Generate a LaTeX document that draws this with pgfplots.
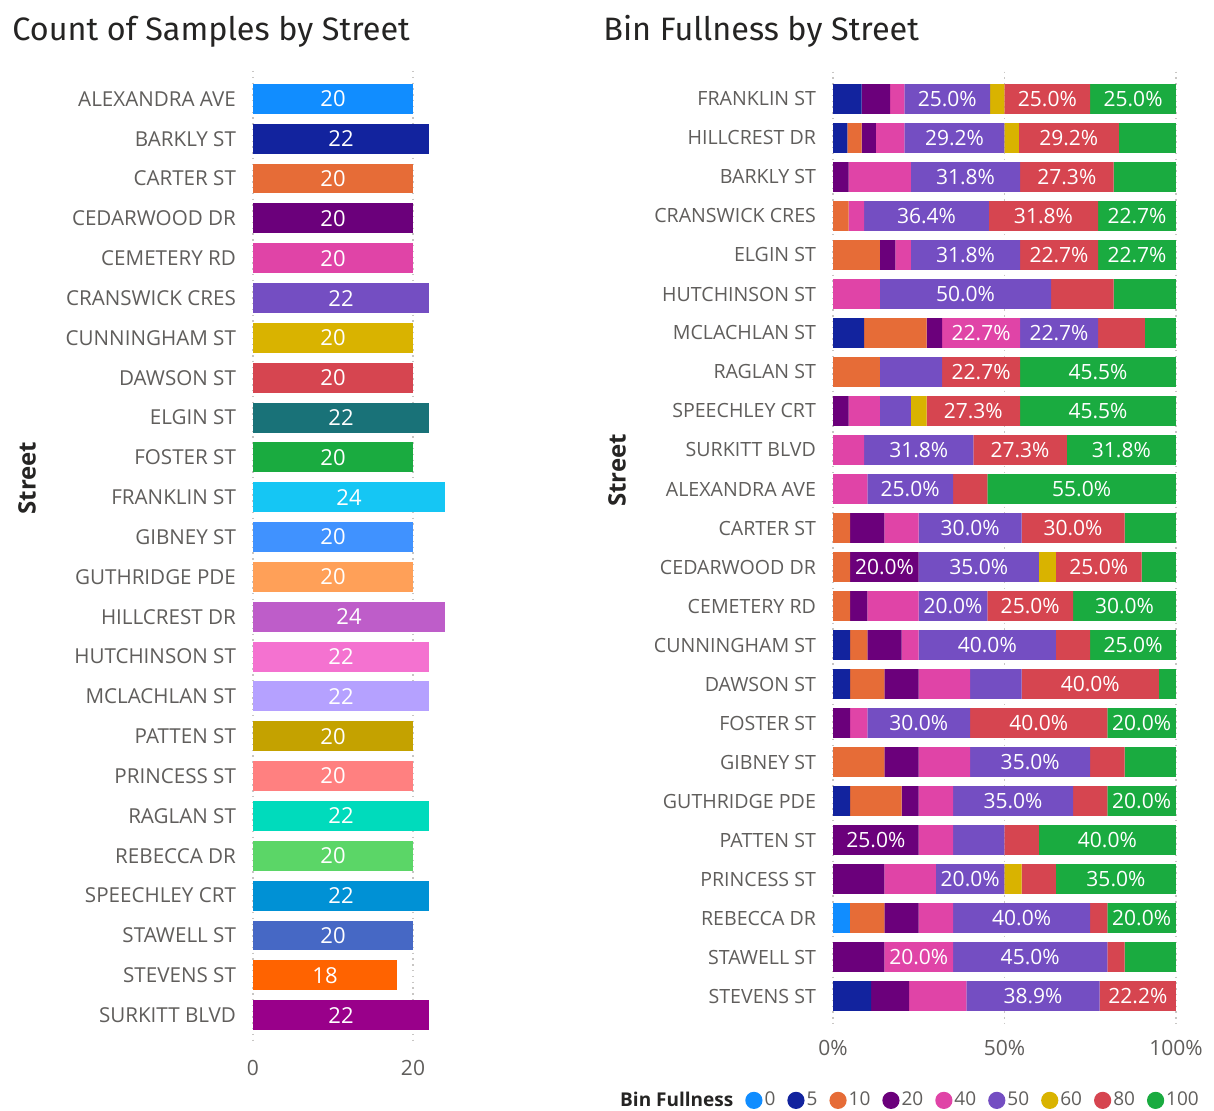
\documentclass[border=0pt]{standalone}
\usepackage{pgfplots}
\pgfplotsset{compat=1.18}
\usepackage{pgfplotstable}
\usepackage{fontspec}
\setmainfont{Open Sans}
\newfontfamily\titlefont{Fira Sans}

\definecolor{p01}{HTML}{118DFF}
\definecolor{p02}{HTML}{12239E}
\definecolor{p03}{HTML}{E66C37}
\definecolor{p04}{HTML}{6B007B}
\definecolor{p05}{HTML}{E044A7}
\definecolor{p06}{HTML}{744EC2}
\definecolor{p07}{HTML}{D9B300}
\definecolor{p08}{HTML}{D64550}
\definecolor{p09}{HTML}{197278}
\definecolor{p10}{HTML}{1AAB40}
\definecolor{p11}{HTML}{15C6F4}
\definecolor{p12}{HTML}{4092FF}
\definecolor{p13}{HTML}{FFA058}
\definecolor{p14}{HTML}{BE5DC9}
\definecolor{p15}{HTML}{F472D0}
\definecolor{p16}{HTML}{B5A1FF}
\definecolor{p17}{HTML}{C4A200}
\definecolor{p18}{HTML}{FF8080}
\definecolor{p19}{HTML}{00DBBC}
\definecolor{p20}{HTML}{5BD667}
\definecolor{p21}{HTML}{0091D5}
\definecolor{p22}{HTML}{4668C5}
\definecolor{p23}{HTML}{FF6300}
\definecolor{p24}{HTML}{99008A}
\definecolor{lbl}{HTML}{605E5C}
\definecolor{ttl}{HTML}{252423}
\definecolor{gridc}{HTML}{C8C6C4}

\pgfplotstableread{
idx s0 s5 s10 s20 s40 s50 s60 s80 s100
0 0 8.3333 0 8.3333 4.1667 25.0 4.1667 25.0 25.0
1 0 4.1667 4.1667 4.1667 8.3333 29.1667 4.1667 29.1667 16.6667
2 0 0 0 4.5455 18.1818 31.8182 0 27.2727 18.1818
3 0 0 4.5455 0 4.5455 36.3636 0 31.8182 22.7273
4 0 0 13.6364 4.5455 4.5455 31.8182 0 22.7273 22.7273
5 0 0 0 0 13.6364 50.0 0 18.1818 18.1818
6 0 9.0909 18.1818 4.5455 22.7273 22.7273 0 13.6364 9.0909
7 0 0 13.6364 0 0 18.1818 0 22.7273 45.4545
8 0 0 0 4.5455 9.0909 9.0909 4.5455 27.2727 45.4545
9 0 0 0 0 9.0909 31.8182 0 27.2727 31.8182
10 0 0 0 0 10 25 0 10 55
11 0 0 5 10 10 30 0 30 15
12 0 0 5 20 0 35 5 25 10
13 0 0 5 5 15 20 0 25 30
14 0 5 5 10 5 40 0 10 25
15 0 5 10 10 15 15 0 40 5
16 0 0 0 5 5 30 0 40 20
17 0 0 15 10 15 35 0 10 15
18 0 5 15 5 10 35 0 10 20
19 0 0 0 25 10 15 0 10 40
20 0 0 0 15 15 20 5 10 35
21 5 0 10 10 10 40 0 5 20
22 0 0 0 15 20 45 0 5 15
23 0 11.1111 0 11.1111 16.6667 38.8889 0 22.2222 0
}\bins

\pgfplotsset{
  /pgf/number format/assume math mode=true,
  every axis title shift=0pt,
  seg/.style={
    fill=#1, draw=none,
  },
  lab/.style={
    visualization depends on={rawx \as \rawxv},
    nodes near coords={\pgfmathtruncatemacro\okflag{(\rawxv>=19.9)}\ifnum\okflag=1 \pgfmathprintnumber[fixed,fixed zerofill,precision=1]{\rawxv}\%\fi},
    every node near coord/.style={anchor=center, text=white, font=\fontsize{10.5}{12}\selectfont, inner sep=0pt},
  },
}

\begin{document}
\begin{tikzpicture}
\fill[white] (0,0) rectangle (607pt,555.5pt);
\useasboundingbox (0,0) rectangle (607pt,555.5pt);

% ---------------- left chart ----------------
\begin{axis}[
  at={(126.5pt,33pt)}, anchor=south west,
  scale only axis, width=100pt, height=487pt,
  xbar, bar width=0.75, bar shift=0pt,
  xmin=0, xmax=25, ymin=-0.7, ymax=23.75, y dir=reverse,
  xtick={0,20}, ytick={0,...,23},
  yticklabels={ALEXANDRA AVE, BARKLY ST, CARTER ST, CEDARWOOD DR, CEMETERY RD, CRANSWICK CRES, CUNNINGHAM ST, DAWSON ST, ELGIN ST, FOSTER ST, FRANKLIN ST, GIBNEY ST, GUTHRIDGE PDE, HILLCREST DR, HUTCHINSON ST, MCLACHLAN ST, PATTEN ST, PRINCESS ST, RAGLAN ST, REBECCA DR, SPEECHLEY CRT, STAWELL ST, STEVENS ST, SURKITT BLVD},
  axis line style={draw=none}, major tick length=0pt,
  xmajorgrids, grid style={gridc, line width=0.7pt, dash pattern=on 0.7pt off 2.2pt},
  yticklabel style={font=\fontsize{10.3}{12}\selectfont, text=lbl, xshift=-5pt},
  xticklabel style={font=\fontsize{10.5}{12}\selectfont, text=lbl, yshift=-4pt},
  title={Count of Samples by Street},
  title style={at={(axis description cs:-1.205,1.0318)}, anchor=base west, font=\titlefont\fontsize{16.2}{19}\selectfont, text=ttl, inner sep=0pt},
  ylabel={Street},
  ylabel style={at={(axis description cs:-1.13,0.582)}, anchor=center, font=\bfseries\fontsize{12}{14}\selectfont, text=ttl},
  nodes near coords={\pgfmathprintnumber[fixed,precision=0]{\xv}},
  visualization depends on={rawx \as \xv},
  every node near coord/.append style={anchor=center, xshift={-2pt*\xv}, text=white, font=\fontsize{11}{13}\selectfont, inner sep=0pt},
]
\addplot[seg=p01] coordinates {(20,0)};
\addplot[seg=p02] coordinates {(22,1)};
\addplot[seg=p03] coordinates {(20,2)};
\addplot[seg=p04] coordinates {(20,3)};
\addplot[seg=p05] coordinates {(20,4)};
\addplot[seg=p06] coordinates {(22,5)};
\addplot[seg=p07] coordinates {(20,6)};
\addplot[seg=p08] coordinates {(20,7)};
\addplot[seg=p09] coordinates {(22,8)};
\addplot[seg=p10] coordinates {(20,9)};
\addplot[seg=p11] coordinates {(24,10)};
\addplot[seg=p12] coordinates {(20,11)};
\addplot[seg=p13] coordinates {(20,12)};
\addplot[seg=p14] coordinates {(24,13)};
\addplot[seg=p15] coordinates {(22,14)};
\addplot[seg=p16] coordinates {(22,15)};
\addplot[seg=p17] coordinates {(20,16)};
\addplot[seg=p18] coordinates {(20,17)};
\addplot[seg=p19] coordinates {(22,18)};
\addplot[seg=p20] coordinates {(20,19)};
\addplot[seg=p21] coordinates {(22,20)};
\addplot[seg=p22] coordinates {(20,21)};
\addplot[seg=p23] coordinates {(18,22)};
\addplot[seg=p24] coordinates {(22,23)};
\end{axis}

% ---------------- right chart ----------------
\begin{axis}[
  at={(416.5pt,43.85pt)}, anchor=south west,
  scale only axis, width=171.5pt, height=475.8pt,
  xbar stacked, bar width=0.76,
  xmin=0, xmax=100.02, ymin=-0.7, ymax=23.7, y dir=reverse,
  xtick={0,50,100}, xticklabels={0\%,50\%,100\%}, ytick={0,...,23},
  yticklabels={FRANKLIN ST, HILLCREST DR, BARKLY ST, CRANSWICK CRES, ELGIN ST, HUTCHINSON ST, MCLACHLAN ST, RAGLAN ST, SPEECHLEY CRT, SURKITT BLVD, ALEXANDRA AVE, CARTER ST, CEDARWOOD DR, CEMETERY RD, CUNNINGHAM ST, DAWSON ST, FOSTER ST, GIBNEY ST, GUTHRIDGE PDE, PATTEN ST, PRINCESS ST, REBECCA DR, STAWELL ST, STEVENS ST},
  axis line style={draw=none}, major tick length=0pt,
  xmajorgrids, grid style={gridc, line width=0.7pt, dash pattern=on 0.7pt off 2.2pt},
  yticklabel style={font=\fontsize{9.8}{11}\selectfont, text=lbl, xshift=-5pt},
  xticklabel style={font=\fontsize{10.5}{12}\selectfont, text=lbl, yshift=-5pt},
  title={Bin Fullness by Street},
  title style={at={(axis description cs:-0.6706,1.0333)}, anchor=base west, font=\titlefont\fontsize{16.2}{19}\selectfont, text=ttl, inner sep=0pt},
  ylabel={Street},
  ylabel style={at={(axis description cs:-0.6297,0.581)}, anchor=center, font=\bfseries\fontsize{12}{14}\selectfont, text=ttl},
  legend columns=-1,
  legend image code/.code={\fill[#1] (0pt,0pt) circle (4.3pt);},
  legend style={at={(axis description cs:0.223,-0.081)}, anchor=center, draw=none, fill=none,
    font=\fontsize{9.5}{11}\selectfont, text=lbl,
    /tikz/every even column/.append style={column sep=5pt},
    nodes={inner sep=1pt}},
]
\addlegendimage{empty legend}
\addlegendentry{\textcolor{ttl}{\bfseries Bin Fullness}\hspace{3pt}}
\addplot[seg=p01, lab] table[x=s0, y=idx] {\bins};
\addlegendentry{0}
\addplot[seg=p02, lab] table[x=s5, y=idx] {\bins};
\addlegendentry{5}
\addplot[seg=p03, lab] table[x=s10, y=idx] {\bins};
\addlegendentry{10}
\addplot[seg=p04, lab] table[x=s20, y=idx] {\bins};
\addlegendentry{20}
\addplot[seg=p05, lab] table[x=s40, y=idx] {\bins};
\addlegendentry{40}
\addplot[seg=p06, lab] table[x=s50, y=idx] {\bins};
\addlegendentry{50}
\addplot[seg=p07, lab] table[x=s60, y=idx] {\bins};
\addlegendentry{60}
\addplot[seg=p08, lab] table[x=s80, y=idx] {\bins};
\addlegendentry{80}
\addplot[seg=p10, lab] table[x=s100, y=idx] {\bins};
\addlegendentry{100}
\end{axis}
\end{tikzpicture}
\end{document}
